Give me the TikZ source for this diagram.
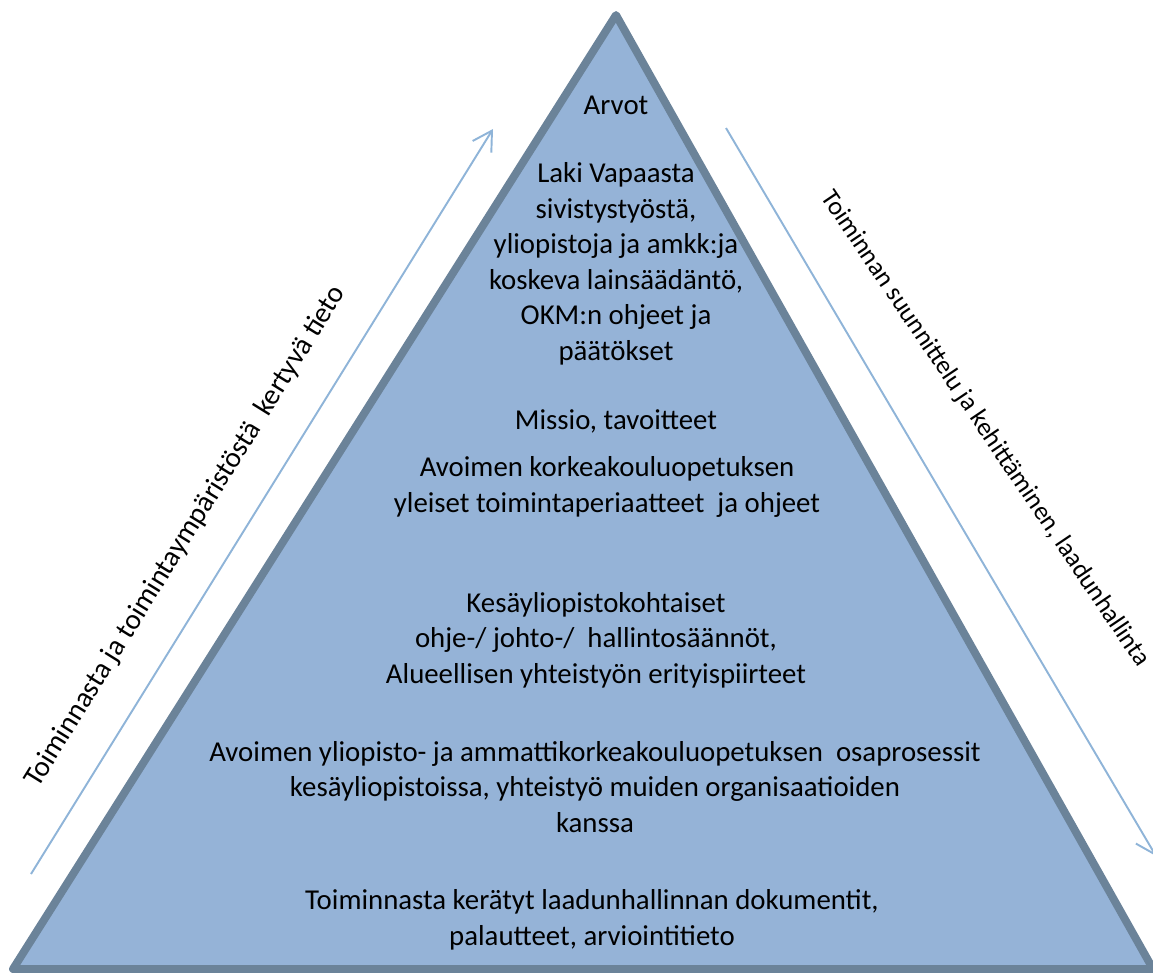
\documentclass[tikz,border=0pt]{standalone}
\usepackage{fontspec}
\setmainfont{Carlito}
\usetikzlibrary{arrows.meta}
\definecolor{pyramid}{HTML}{95B3D7}
\definecolor{pyramidedge}{HTML}{6B8399}
\definecolor{flow}{HTML}{8FB4D8}

\begin{document}
\begin{tikzpicture}[x=0.02cm, y=-0.02cm,
  every node/.style={font=\fontsize{16.4}{20.2}\selectfont, align=center, inner sep=0pt},
  flowarrow/.style={draw=flow, line width=1.1pt, -{Straight Barb[length=0.38cm, width=0.44cm, line width=1.1pt]}}]

\useasboundingbox (0,0) rectangle (1153,974);

% Pyramid
  \coordinate (top) at (616,15);
  \coordinate (left) at (13,969);
  \coordinate (right) at (1153,969);
  \draw[fill=pyramid, draw=pyramidedge, line width=4.5pt, line join=round] (top) -- (left) -- (right) -- cycle;

  % levels
  \node (arvot) at (616,105) {Arvot};
  \node (laki) at (616,264) {Laki Vapaasta\\sivistystyöstä,\\yliopistoja ja amkk:ja\\koskeva lainsäädäntö,\\OKM:n ohjeet ja\\päätökset};
  \node (missio) at (616,421) {Missio, tavoitteet};
  \node (yleiset) at (607,487) {Avoimen korkeakouluopetuksen\\yleiset toimintaperiaatteet\ \ ja ohjeet};
  \node (kesa) at (596,640) {Kesäyliopistokohtaiset\\ohje-/ johto-/\ \ hallintosäännöt,\\Alueellisen yhteistyön erityispiirteet};
  \node (osapros) at (595,787) {Avoimen yliopisto- ja ammattikorkeakouluopetuksen\ \ osaprosessit\\kesäyliopistoissa, yhteistyö muiden organisaatioiden\\kanssa};
  \node (dokum) at (592,920) {Toiminnasta kerätyt laadunhallinnan dokumentit,\\palautteet, arviointitieto};

% Side arrows
  \coordinate (upstart) at (31,874);
  \coordinate (upend) at (493,129);
  \coordinate (downstart) at (726,128);
  \coordinate (downend) at (1156,856);

  \draw[flowarrow] (upstart) -- (upend) node[pos=0.42, sloped, above=0.66cm] (tieto) {Toiminnasta ja toimintaympäristöstä\ \ kertyvä tieto};
  \draw[flowarrow] (downstart) -- (downend);
  \node[rotate=-56, font=\fontsize{14.8}{18}\selectfont] (suunnittelu) at (985,429) {Toiminnan suunnittelu ja kehittäminen, laadunhallinta};

\end{tikzpicture}
\end{document}
